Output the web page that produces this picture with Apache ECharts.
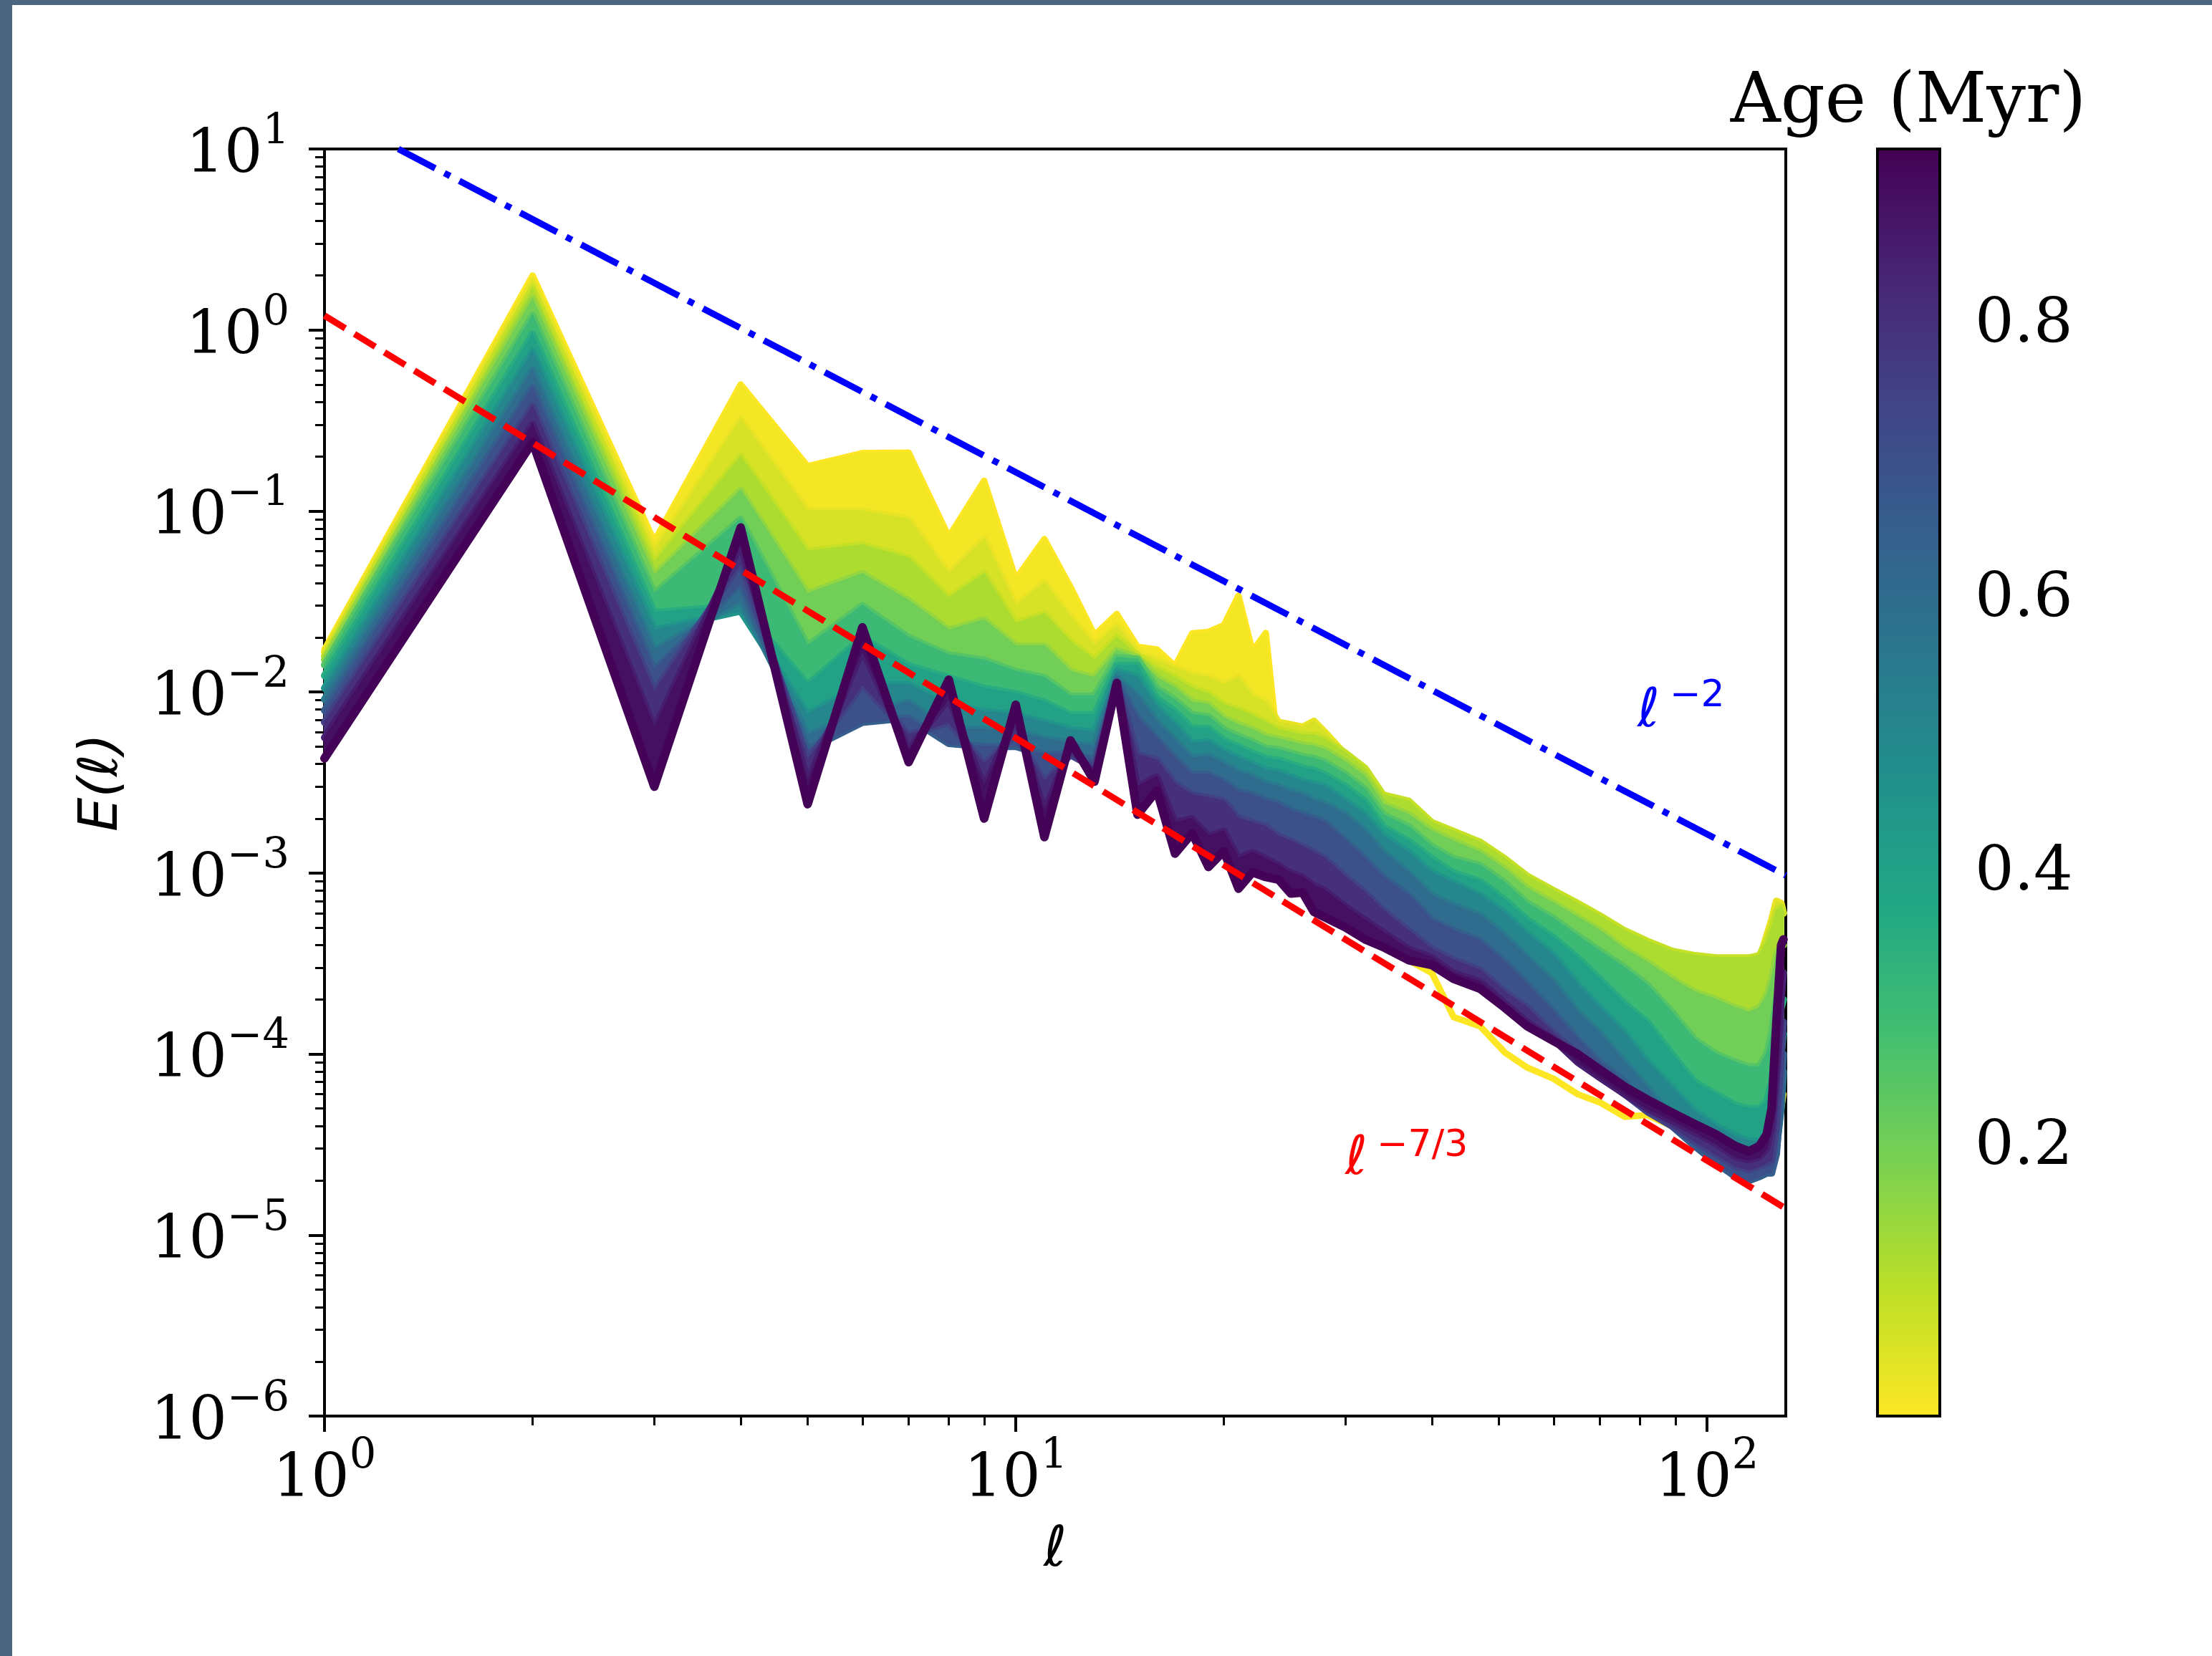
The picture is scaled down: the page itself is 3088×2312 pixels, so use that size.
<!DOCTYPE html>
<html><head><meta charset="utf-8">
<script src="https://cdn.jsdelivr.net/npm/echarts@6/dist/echarts.min.js"></script>
<style>
html,body{margin:0;padding:0;background:#fff;}
#chart{position:absolute;left:0;top:0;width:3088px;height:2312px;}
.edgeL{position:absolute;left:0;top:0;width:17px;height:2312px;background:#4c6580;}
.edgeT{position:absolute;left:0;top:0;width:3088px;height:7px;background:#4c6580;}
</style></head><body>
<div id="chart"></div><div class="edgeL"></div><div class="edgeT"></div>
<script>
// multipole degree
const ell = [1,2,3,4,5,6,7,8,9,10,11,12,13,14,15,16,17,18,19,20,21,22,23,24,25,26,27,28,30,32,34,37,40,43,47,51,55,60,65,70,76,82,89,96,103,110,115,119,122,124,126,128,129];
// snapshot ages (Myr)
const ages = [0.0, 0.03, 0.08, 0.15, 0.25, 0.35, 0.45, 0.55, 0.65, 0.75, 0.85, 0.92];
// E(l) for each snapshot
const E00 = [0.0172,2.0,0.068,0.5,0.177,0.209,0.21,0.072,0.147,0.042,0.070,0.038,0.0206,0.027,0.0178,0.0172,0.0139,0.0211,0.0215,0.0234,0.034,0.0168,0.0212,
  0.0045,0.0030,0.0022,0.0016,0.0012,0.0008,0.0006,0.0004,0.00033,0.00028,0.00016,0.000142,0.000102,0.000084,0.000073,0.00006,0.000054,0.000045,0.000046,0.00004,0.000035,0.000032,0.00003,0.00003,0.00003,0.000032,0.000035,0.00004,0.00005,0.00006];
const E01 = [0.0166,1.86,0.060,0.32,0.10,0.10,0.09,0.045,0.07,0.03,0.04,0.026,0.018,0.023,0.0165,0.015,0.0135,0.0125,0.012,0.011,0.012,0.0095,0.0088,
  0.0068,0.0066,0.0064,0.0069,0.0060,0.0045,0.0037,0.0026,0.0024,0.0018,0.0016,0.0014,0.00115,0.0009,0.00076,0.00064,0.00055,0.00046,0.0004,0.00035,0.00032,0.00031,0.00031,0.00031,0.00033,0.00045,0.00055,0.0007,0.00068,0.0006];
const E02 = [0.0158,1.7,0.052,0.2,0.06,0.065,0.055,0.033,0.045,0.024,0.027,0.019,0.015,0.020,0.016,0.0135,0.012,0.0105,0.0098,0.0085,0.008,0.0074,0.0068,
  0.0062,0.0060,0.0058,0.0058,0.0055,0.0046,0.0038,0.0027,0.0025,0.0019,0.0017,0.00148,0.0012,0.00096,0.0008,0.00068,0.00058,0.00048,0.00042,0.00037,0.00035,0.00034,0.00034,0.00034,0.00035,0.00042,0.0005,0.00062,0.00065,0.0006];
const E03 = [0.0151,1.48,0.044,0.13,0.035,0.045,0.032,0.022,0.025,0.018,0.018,0.013,0.012,0.017,0.0155,0.012,0.0105,0.0088,0.0085,0.0072,0.0066,0.0062,0.0057,
  0.0055,0.0053,0.0051,0.0050,0.0048,0.0041,0.0034,0.0024,0.0021,0.0017,0.0015,0.0013,0.00105,0.00082,0.00068,0.00057,0.00048,0.00038,0.00032,0.00026,0.00022,0.0002,0.00018,0.00017,0.00018,0.00021,0.00026,0.00035,0.0004,0.0004];
const E04 = [0.0141,1.2,0.035,0.09,0.018,0.03,0.02,0.016,0.015,0.013,0.012,0.0095,0.0095,0.0155,0.0152,0.0105,0.009,0.0075,0.0073,0.0062,0.0057,0.0053,0.0049,
  0.0048,0.0046,0.0044,0.0043,0.0041,0.0035,0.0029,0.0021,0.0018,0.0014,0.0012,0.0011,0.00088,0.00068,0.00056,0.00045,0.00037,0.0003,0.00024,0.00017,0.00012,0.0001,0.00009,0.000085,0.000085,0.0001,0.00013,0.0002,0.00025,0.00028];
const E05 = [0.0123,0.95,0.0275,0.03,0.011,0.02,0.014,0.012,0.0105,0.0098,0.0088,0.0075,0.0075,0.014,0.014,0.0092,0.0078,0.0063,0.0063,0.0054,0.005,0.0046,0.0043,
  0.0042,0.0040,0.0038,0.0037,0.0035,0.0030,0.0025,0.0018,0.0015,0.0012,0.0010,0.0009,0.00071,0.00055,0.00044,0.00034,0.00026,0.00019,0.00015,0.0001,0.00007,0.00006,0.000052,0.00005,0.00005,0.000055,0.00007,0.00012,0.00018,0.0002];
const E06 = [0.0105,0.76,0.022,0.028,0.0075,0.011,0.011,0.0085,0.0078,0.0075,0.0068,0.0062,0.006,0.013,0.012,0.0082,0.0066,0.0052,0.0053,0.0047,0.0043,0.004,0.0037,
  0.0036,0.0034,0.0032,0.0031,0.0030,0.0025,0.0021,0.0016,0.0013,0.001,0.00088,0.00075,0.0006,0.00046,0.00035,0.00024,0.00018,0.00013,0.00009,0.000065,0.000048,0.00004,0.000035,0.000033,0.000033,0.000036,0.00004,0.00006,0.0001,0.00013];
const E07 = [0.0091,0.6,0.017,0.032,0.0058,0.0075,0.0088,0.0062,0.0062,0.006,0.0055,0.0052,0.005,0.012,0.0095,0.0068,0.0054,0.0043,0.0044,0.004,0.0036,0.0034,0.0031,
  0.0030,0.0028,0.0027,0.0025,0.0024,0.0021,0.0017,0.0013,0.001,0.00075,0.00066,0.00058,0.00045,0.00034,0.00025,0.00017,0.00013,0.00009,0.000065,0.000045,0.000034,0.000027,0.000022,0.000021,0.000021,0.000022,0.000025,0.00003,0.00005,0.00008];
const E08 = [0.0079,0.48,0.0132,0.04,0.0048,0.0068,0.0072,0.0052,0.005,0.005,0.0045,0.0046,0.0042,0.0115,0.0072,0.0055,0.0043,0.0035,0.0035,0.0032,0.0028,0.0027,0.0025,
  0.0024,0.0022,0.0021,0.0020,0.0019,0.0015,0.0012,0.00095,0.00075,0.00055,0.00048,0.00042,0.00032,0.00024,0.00017,0.00012,0.00009,0.00007,0.00005,0.00004,0.000031,0.000025,0.000021,0.00002,0.000021,0.000022,0.000022,0.000028,0.00006,0.0001];
const E09 = [0.0068,0.38,0.010,0.052,0.0042,0.011,0.0058,0.0068,0.004,0.0058,0.0032,0.0045,0.0038,0.0112,0.0045,0.0042,0.0031,0.0027,0.0026,0.0025,0.002,0.0019,0.0018,
  0.0016,0.0015,0.0014,0.0013,0.0012,0.00095,0.00078,0.00062,0.00048,0.00038,0.00033,0.00029,0.00022,0.00018,0.00013,0.0001,0.000077,0.00006,0.000048,0.00004,0.000033,0.000028,0.000024,0.000023,0.000024,0.000025,0.000026,0.00004,0.0001,0.00015];
const E10 = [0.0056,0.30,0.0063,0.066,0.0032,0.017,0.0048,0.0092,0.003,0.0072,0.0022,0.005,0.0035,0.0112,0.003,0.0034,0.0019,0.002,0.0016,0.0017,0.0012,0.0013,0.0012,
  0.0011,0.001,0.00095,0.00085,0.0008,0.00065,0.00055,0.00047,0.00038,0.00034,0.00028,0.00025,0.00019,0.00015,0.00012,0.00009,0.000074,0.00006,0.00005,0.000043,0.000037,0.000032,0.000027,0.000026,0.000027,0.00003,0.00004,0.00008,0.0002,0.00028];
const E11 = [0.0043,0.24,0.0030,0.081,0.0024,0.0228,0.0041,0.0117,0.0020,0.0085,0.00158,0.0054,0.0032,0.0112,0.0021,0.00286,0.00128,0.00166,0.00108,0.00132,0.00082,0.00101,0.00095,
  0.00092,0.00077,0.00078,0.00061,0.00057,0.00050,0.00043,0.00039,0.00033,0.00031,0.00026,0.000229,0.00018,0.000142,0.000118,0.0001,0.000082,0.000066,0.000056,0.0000475,0.000041,0.000036,0.000031,0.000029,0.000031,0.000036,0.00005,0.00015,0.0004,0.00043];
// reference power laws (end points)
const slopeM2_l = [1.279, 130];
const slopeM2_E = [10, 0.00097];
const slopeM73_l = [1, 130];
const slopeM73_E = [1.2, 1.40e-5];
// axis ticks
const xMajor = [1, 10, 100];
const xMinor = [2,3,4,5,6,7,8,9,20,30,40,50,60,70,80,90];
const yMajor = [1e-6,1e-5,1e-4,1e-3,1e-2,1e-1,1,10];
const cbTicks = [0.2, 0.4, 0.6, 0.8];
const AGE_MAX = 0.925;

const spectra = [E00,E01,E02,E03,E04,E05,E06,E07,E08,E09,E10,E11];
const yMinor = [];
for (let e = -6; e < 1; e++) for (let m = 2; m <= 9; m++) yMinor.push(+(m * Math.pow(10, e)).toPrecision(3));

const VIR = ['#440154','#482475','#414487','#355f8d','#2a788e','#21918c','#22a884','#44bf70','#7ad151','#bddf26','#fde725'];
function hex(h){return [parseInt(h.substr(1,2),16),parseInt(h.substr(3,2),16),parseInt(h.substr(5,2),16)];}
function viridis(t){
  t = Math.max(0, Math.min(1, t));
  const p = t * 10, i = Math.min(9, Math.floor(p)), f = p - i;
  const a = hex(VIR[i]), b = hex(VIR[i+1]);
  const c = a.map((v, j) => Math.round(v + (b[j] - v) * f));
  return 'rgb(' + c.join(',') + ')';
}
function ageColor(a){ return viridis(1 - a / AGE_MAX); }

const SERIF = 'DejaVu Serif', SANS = 'DejaVu Sans';
function powLabel(v){
  const e = Math.round(Math.log10(v));
  const s = e < 0 ? '\u2212' + (-e) : String(e);
  return '{b|10}{s|' + s + '}';
}
const powRich = {
  b: {fontFamily: SERIF, fontSize: 84, lineHeight: 104, verticalAlign: 'bottom', color: '#000'},
  s: {fontFamily: SERIF, fontSize: 59, lineHeight: 59, verticalAlign: 'top', color: '#000'}
};

const series = [];
function lineSeries(k){
  const w = k === 0 ? 9 : (k === spectra.length - 1 ? 12 : 10);
  return {type: 'line', xAxisIndex: 0, yAxisIndex: 0, silent: true, symbol: 'none', showSymbol: false, clip: true,
    data: ell.map((l, i) => [l, spectra[k][i]]),
    lineStyle: {color: ageColor(ages[k]), width: w, cap: 'round', join: 'round'}, z: 10 + 2 * k};
}
function bandSeries(k){
  const c = ageColor((ages[k] + ages[k+1]) / 2);
  const n = k === 0 ? 24 : ell.length;
  return {type: 'custom', coordinateSystem: 'cartesian2d', xAxisIndex: 0, yAxisIndex: 0, silent: true,
    data: [[ell[0], spectra[k][0]]], z: 9 + 2 * (k + 1),
    renderItem: function(params, api){
      const pts = [];
      for (let i = 0; i < n; i++) pts.push(api.coord([ell[i], spectra[k][i]]));
      for (let i = n - 1; i >= 0; i--) pts.push(api.coord([ell[i], spectra[k+1][i]]));
      return {type: 'polygon', shape: {points: pts}, style: {fill: c, stroke: c, lineWidth: 2}};
    }};
}
spectra.forEach((E, k) => {
  if (k > 0) series.push(bandSeries(k - 1));
  series.push(lineSeries(k));
});
series.push({type: 'line', xAxisIndex: 0, yAxisIndex: 0, silent: true, symbol: 'none', clip: true, z: 60,
  data: slopeM73_l.map((l, i) => [l, slopeM73_E[i]]),
  lineStyle: {color: '#ff0000', width: 9, type: [34, 15], cap: 'butt'}});
series.push({type: 'line', xAxisIndex: 0, yAxisIndex: 0, silent: true, symbol: 'none', clip: true, z: 61,
  data: slopeM2_l.map((l, i) => [l, slopeM2_E[i]]),
  lineStyle: {color: '#0000ff', width: 9, type: [58, 14.5, 9, 14.5], cap: 'butt'}});
// colorbar
series.push({type: 'custom', coordinateSystem: 'cartesian2d', xAxisIndex: 2, yAxisIndex: 2, silent: true, data: [[0, 0]], z: 5,
  renderItem: function(params, api){
    const p0 = api.coord([0, 0]), p1 = api.coord([1, AGE_MAX]);
    const stops = VIR.map((c, j) => ({offset: j / 10, color: c}));
    return {type: 'rect', shape: {x: p0[0], y: p1[1], width: p1[0] - p0[0], height: p0[1] - p1[1]},
      style: {fill: new echarts.graphic.LinearGradient(0, 0, 0, 1, stops), stroke: '#000', lineWidth: 4}};
  }});

const chart = echarts.init(document.getElementById('chart'), null, {renderer: 'canvas'});
chart.setOption({
  animation: false,
  backgroundColor: '#ffffff',
  grid: [
    {left: 453, top: 208, width: 2040, height: 1769, show: true, borderColor: '#000', borderWidth: 4, backgroundColor: 'transparent'},
    {left: 2621, top: 208, width: 87, height: 1769, show: false}
  ],
  xAxis: [
    {type: 'log', logBase: 10, min: 1, max: 130, gridIndex: 0, position: 'bottom',
     name: '\u2113', nameLocation: 'middle', nameGap: 150,
     nameTextStyle: {fontFamily: SANS, fontStyle: 'italic', fontSize: 78, color: '#000'},
     axisLine: {show: false}, splitLine: {show: false},
     axisTick: {show: true, inside: false, length: 22, customValues: xMajor, lineStyle: {color: '#000', width: 4}},
     axisLabel: {show: true, customValues: xMajor, margin: 28, formatter: powLabel, rich: powRich}},
    {type: 'log', logBase: 10, min: 1, max: 130, gridIndex: 0, position: 'bottom',
     axisLine: {show: false}, splitLine: {show: false},
     axisTick: {show: true, inside: false, length: 13, customValues: xMinor, lineStyle: {color: '#000', width: 3}},
     axisLabel: {show: false}},
    {type: 'value', min: 0, max: 1, gridIndex: 1, show: false}
  ],
  yAxis: [
    {type: 'log', logBase: 10, min: 1e-6, max: 10, gridIndex: 0, position: 'left',
     name: 'E(\u2113)', nameLocation: 'middle', nameGap: 272, nameRotate: 90,
     nameTextStyle: {fontFamily: SANS, fontStyle: 'italic', fontSize: 75, color: '#000'},
     axisLine: {show: false}, splitLine: {show: false},
     axisTick: {show: true, inside: false, length: 22, customValues: yMajor, lineStyle: {color: '#000', width: 4}},
     axisLabel: {show: true, customValues: yMajor, margin: 49, formatter: powLabel, rich: powRich}},
    {type: 'log', logBase: 10, min: 1e-6, max: 10, gridIndex: 0, position: 'left',
     axisLine: {show: false}, splitLine: {show: false},
     axisTick: {show: true, inside: false, length: 13, customValues: yMinor, lineStyle: {color: '#000', width: 3}},
     axisLabel: {show: false}},
    {type: 'value', min: 0, max: AGE_MAX, gridIndex: 1, position: 'right',
     axisLine: {show: false}, splitLine: {show: false},
     axisTick: {show: true, inside: false, length: 22, customValues: cbTicks, lineStyle: {color: '#000', width: 4}},
     axisLabel: {show: true, customValues: cbTicks, margin: 49, formatter: v => '{v|' + v.toFixed(1) + '}',
       rich: {v: {fontFamily: SERIF, fontSize: 86, color: '#000', lineHeight: 86, padding: [16, 0, 0, 0]}}}}
  ],
  graphic: [
    {type: 'text', x: 2664, y: 145, z: 100, style: {text: 'Age (Myr)', fontFamily: SERIF, fontSize: 97, fill: '#000', align: 'center', verticalAlign: 'middle'}},
    {type: 'text', x: 2286, y: 995, z: 100, style: {text: '\u2113', fontFamily: SANS, fontStyle: 'italic', fontSize: 75, fill: '#0000ff', align: 'left', verticalAlign: 'middle'}},
    {type: 'text', x: 2331, y: 972, z: 100, style: {text: '\u22122', fontFamily: SANS, fontSize: 52, fill: '#0000ff', align: 'left', verticalAlign: 'middle'}},
    {type: 'text', x: 1878, y: 1620, z: 100, style: {text: '\u2113', fontFamily: SANS, fontStyle: 'italic', fontSize: 75, fill: '#ff0000', align: 'left', verticalAlign: 'middle'}},
    {type: 'text', x: 1922, y: 1600, z: 100, style: {text: '\u22127/3', fontFamily: SANS, fontSize: 52, fill: '#ff0000', align: 'left', verticalAlign: 'middle'}}
  ],
  series: series
});
</script>
</body></html>
